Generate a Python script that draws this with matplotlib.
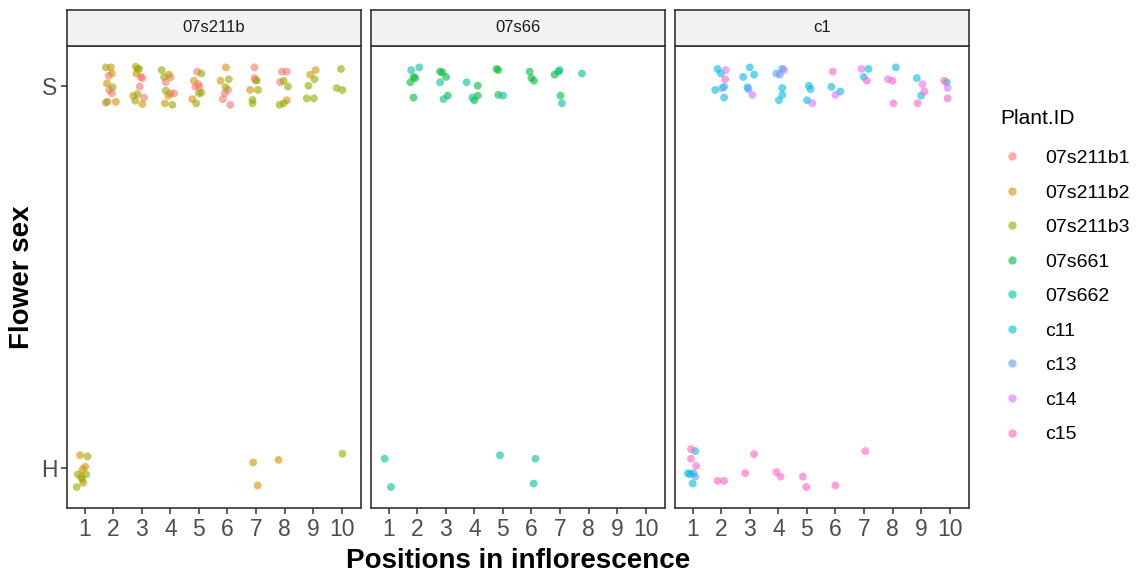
import matplotlib.pyplot as plt
from matplotlib.lines import Line2D

plt.rcParams['font.family'] = ['Liberation Sans', 'DejaVu Sans']

# facet panels and plant ids
panels = ['07s211b', '07s66', 'c1']
plant_ids = ['07s211b1', '07s211b2', '07s211b3', '07s661', '07s662',
             'c11', 'c13', 'c14', 'c15']
plant_panel = ['07s211b', '07s211b', '07s211b', '07s66', '07s66',
               'c1', 'c1', 'c1', 'c1']
colors = ['#F8766D', '#D39200', '#93AA00', '#00BA38', '#00C19F',
          '#00B9E3', '#619CFF', '#DB72FB', '#FF61C3']

# jittered observations: x = position in inflorescence, y = sex (1 = H, 2 = S)
b1_x = [1.84, 1.86, 1.95, 1.80, 2.97, 3.02, 2.93, 3.08, 4.01, 3.84, 4.01, 4.13, 4.94,
        4.98, 4.88, 5.02, 6.02, 5.91, 5.84, 6.10, 6.95, 6.95, 6.98, 7.91, 8.08, 7.85]
b1_y = [2.027, 1.990, 1.981, 1.959, 2.024, 2.021, 1.999, 1.970, 2.023, 2.010, 1.981,
        1.981, 2.038, 2.005, 1.998, 1.998, 1.990, 1.981, 1.966, 1.951, 2.049, 2.021,
        2.016, 2.038, 2.038, 2.010]

b2_x = [1.92, 1.95, 1.78, 2.09, 2.85, 2.81, 2.70, 3.02, 3.95, 3.93, 3.81, 4.83, 4.77,
        5.95, 5.76, 6.80, 8.08, 9.09, 8.90,
        0.84, 1.02, 0.93, 0.95, 0.87, 6.90, 7.79, 7.06]
b2_y = [2.049, 2.033, 2.007, 1.959, 2.045, 2.033, 1.975, 1.953, 2.030, 1.975, 1.955,
        2.014, 1.966, 2.049, 2.014, 1.990, 1.963, 2.042, 2.030,
        1.034, 1.004, 0.997, 0.962, 0.978, 1.015, 1.022, 0.955]

b3_x = [1.74, 1.98, 1.74, 2.79, 2.91, 2.85, 2.77, 3.70, 3.78, 3.84, 4.07, 5.09, 5.00,
        5.09, 4.91, 6.05, 5.93, 7.03, 7.07, 6.88, 6.88, 7.97, 8.12, 7.97, 7.83, 9.05,
        8.84, 8.78, 9.03, 9.98, 9.83, 10.03,
        1.10, 0.76, 1.05, 0.91, 0.72, 10.03]
b3_y = [2.049, 1.997, 1.957, 2.051, 2.045, 1.979, 1.962, 2.042, 2.024, 1.988, 1.951,
        2.033, 1.981, 1.983, 1.955, 2.018, 1.997, 2.014, 1.990, 1.964, 1.955, 2.014,
        1.999, 1.955, 1.951, 2.018, 2.001, 1.968, 1.968, 2.045, 1.995, 1.990,
        1.031, 0.984, 0.984, 0.971, 0.951, 1.038]

s661_x = [1.87, 1.93, 1.76, 1.87, 2.80, 2.88, 3.01, 3.07, 4.12, 4.00, 4.12, 4.78, 4.84,
          4.84, 5.94, 6.00, 6.09, 6.81, 6.95, 7.02]
s661_y = [2.024, 2.021, 2.010, 1.970, 2.038, 2.036, 2.024, 1.975, 2.001, 1.963, 1.975,
          2.045, 2.042, 1.977, 2.038, 2.021, 2.014, 2.030, 2.038, 1.975]

s662_x = [1.79, 2.07, 2.80, 2.92, 3.73, 3.93, 5.01, 6.99, 7.07, 7.77,
          0.86, 1.08, 4.90, 6.14, 6.08]
s662_y = [2.042, 2.049, 2.010, 1.966, 2.010, 1.970, 1.975, 2.042, 1.955, 2.033,
          1.025, 0.951, 1.034, 1.025, 0.960]

c11_x = [1.87, 1.99, 1.79, 2.10, 2.10, 3.00, 2.77, 3.15, 2.92, 4.14, 4.14, 4.14, 4.02,
         5.07, 5.13, 5.01, 5.86, 6.17, 7.16, 6.99, 8.12, 8.85, 9.00, 9.90,
         1.09, 0.83, 0.91, 1.02, 1.00]
c11_y = [2.045, 2.033, 1.990, 1.998, 1.970, 2.049, 2.024, 2.030, 1.997, 2.045, 1.995,
         1.977, 1.963, 2.001, 1.992, 1.963, 1.998, 1.986, 2.045, 2.024, 2.049, 2.021,
         1.975, 2.010,
         1.045, 0.987, 0.984, 0.987, 0.960]

c13_x = [2.02, 2.95, 3.93, 4.05, 1.09]
c13_y = [1.995, 1.992, 2.033, 2.030, 0.978]

c14_x = [2.16, 3.09, 4.20, 5.19, 6.00, 6.91, 7.84, 9.05, 9.93]
c14_y = [2.042, 1.977, 2.042, 1.955, 1.977, 2.045, 2.018, 2.005, 1.995]

c15_x = [2.14, 5.91, 7.10, 8.00, 8.03, 9.12, 8.88, 9.81, 9.93,
         0.94, 0.94, 1.12, 1.87, 2.10, 3.15, 2.84, 3.93, 4.08, 4.86, 4.98, 6.00, 7.05]
c15_y = [2.018, 2.038, 2.014, 2.014, 1.955, 1.986, 1.955, 2.014, 1.968,
         1.050, 1.025, 1.006, 0.967, 0.967, 1.037, 0.987, 0.990, 0.978, 0.978, 0.951,
         0.955, 1.045]

xs = [b1_x, b2_x, b3_x, s661_x, s662_x, c11_x, c13_x, c14_x, c15_x]
ys = [b1_y, b2_y, b3_y, s661_y, s662_y, c11_y, c13_y, c14_y, c15_y]

positions = list(range(1, 11))
sex_levels = [1, 2]
sex_labels = ['H', 'S']

W, H = 1141, 575
fig = plt.figure(figsize=(W / 100, H / 100), dpi=100)

panel_left = [67, 371, 675]
panel_w = 294
panel_top, panel_bottom = 46, 508
strip_top = 10
edge = '#333333'

for i, name in enumerate(panels):
    ax = fig.add_axes([panel_left[i] / W, (H - panel_bottom) / H,
                       panel_w / W, (panel_bottom - panel_top) / H])
    for pid, pan, col, x, y in zip(plant_ids, plant_panel, colors, xs, ys):
        if pan == name:
            ax.scatter(x, y, s=32, color=col, alpha=0.6, edgecolors='none', zorder=3)
    ax.set_xlim(0.38, 10.68)
    ax.set_ylim(0.896, 2.105)
    ax.set_xticks(positions)
    ax.set_yticks(sex_levels)
    ax.tick_params(colors=edge, labelcolor='#4D4D4D', labelsize=16.5,
                   length=4, width=1.1, pad=3)
    if i == 0:
        ax.set_yticklabels(sex_labels)
    else:
        ax.tick_params(axis='y', left=False, labelleft=False)
    for sp in ax.spines.values():
        sp.set_color(edge)
        sp.set_linewidth(1.2)

    # facet strip
    sax = fig.add_axes([panel_left[i] / W, (H - panel_top) / H,
                        panel_w / W, (panel_top - strip_top) / H])
    sax.set_facecolor('#F2F2F2')
    sax.set_xticks([])
    sax.set_yticks([])
    for sp in sax.spines.values():
        sp.set_color(edge)
        sp.set_linewidth(1.2)
    sax.text(0.5, 0.5, name, ha='center', va='center', fontsize=12,
             color='#1A1A1A', transform=sax.transAxes)

fig.text(518 / W, 1 - 561 / H, 'Positions in inflorescence', ha='center',
         va='center', fontsize=20, fontweight='bold')
fig.text(22 / W, 1 - 277 / H, 'Flower sex', ha='center', va='center',
         rotation=90, fontsize=20, fontweight='bold')

# legend
fig.text(1000 / W, 1 - 118 / H, 'Plant.ID', ha='left', va='center', fontsize=15)
handles = [Line2D([], [], marker='o', linestyle='', markersize=6,
                  markerfacecolor=c, markeredgecolor='none', alpha=0.6)
           for c in colors]
fig.legend(handles, plant_ids, loc='upper left',
           bbox_to_anchor=(983 / W, 1 - 132 / H), frameon=False,
           fontsize=14, labelspacing=0.87,
           handletextpad=1.1, handlelength=1.2)

fig.savefig('out.png', dpi=100)
